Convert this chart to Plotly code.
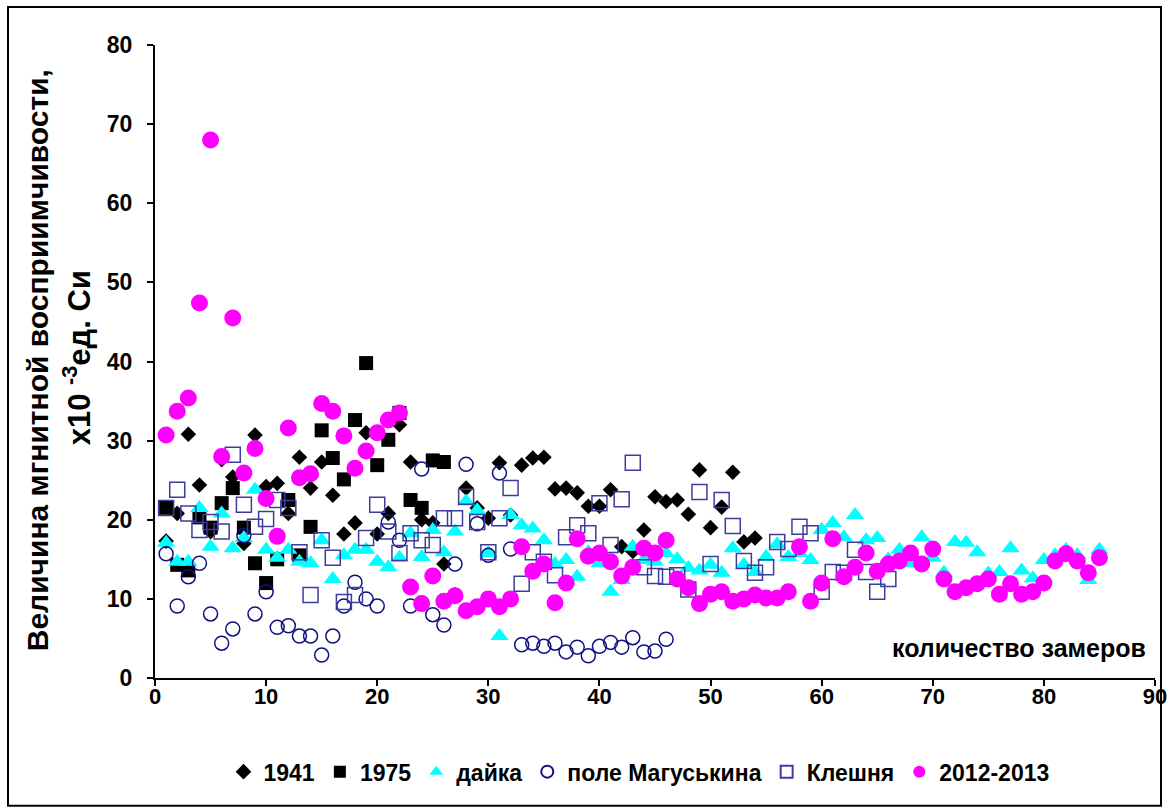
import plotly.graph_objects as go

# ---- data ----
y1941 = [17.3, 20.8, 30.8, 24.4, 18.5, 27.6, 25.4, 17.0, 30.7, 24.2, 24.6, 20.8, 27.9, 24.0, 27.3,
         23.1, 18.2, 19.6, 31.0, 18.2, 20.8, 32.0, 27.3, 20.0, 19.6, 14.4, 10.5, 24.0, 21.5, 20.2,
         27.2, 20.6, 26.9, 27.8, 27.9, 23.9, 24.0, 23.4, 21.7, 21.7, 23.8, 16.6, 16.0, 18.7, 22.9,
         22.3, 22.5, 20.7, 26.3, 19.0, 21.6, 26.0, 17.2, 17.7]
x1941 = list(range(1, len(y1941) + 1))

y1975 = [21.5, 14.3, 13.6, 20.3, 19.0, 22.1, 24.0, 19.0, 14.5, 12.0, 15.0, 22.5, 15.5, 19.1, 31.3,
         27.8, 25.1, 32.6, 39.8, 26.9, 30.1, 33.5, 22.5, 21.5, 27.5, 27.3]
x1975 = list(range(1, len(y1975) + 1))

y_dayka = [17.1, 14.7, 14.7, 21.5, 16.6, 20.8, 16.4, 17.7, 23.8, 16.2, 15.2, 16.2, 14.7, 14.5, 17.4,
           12.5, 15.5, 16.2, 16.2, 14.7, 14.0, 15.2, 18.3, 15.3, 18.7, 15.9, 18.5, 22.3, 21.2, 15.8,
           5.3, 20.6, 19.3, 18.9, 17.4, 14.4, 14.9, 12.8, 15.9, 14.5, 10.9, 12.4, 16.6, 14.9, 14.7,
           15.8, 15.0, 13.9, 13.6, 14.3, 13.3, 16.4, 14.3, 13.4, 15.3, 16.9, 15.3, 15.8, 14.9, 18.7,
           19.6, 17.8, 20.6, 17.4, 17.7, 15.0, 16.2, 14.5, 17.8, 15.2, 13.3, 17.2, 17.1, 15.9, 13.2,
           13.4, 16.4, 13.6, 12.6, 14.9, 15.5, 16.2, 15.5, 12.4, 16.2]
x_dayka = list(range(1, len(y_dayka) + 1))

y_pole = [15.7, 9.1, 12.8, 14.5, 8.1, 4.4, 6.2, 18.0, 8.1, 10.9, 6.4, 6.6, 5.3, 5.3, 2.9,
          5.3, 9.1, 12.1, 10.0, 9.1, 19.7, 17.4, 9.1, 26.4, 8.0, 6.7, 14.4, 27.0, 19.5, 15.5,
          25.9, 16.3, 4.2, 4.4, 4.0, 4.4, 3.3, 3.9, 2.8, 4.0, 4.5, 3.9, 5.1, 3.3, 3.4, 4.9]
x_pole = list(range(1, len(y_pole) + 1))

y_klesh = [21.5, 23.8, 20.8, 18.7, 19.7, 18.5, 28.2, 21.9, 19.1, 20.1, 22.5, 21.5, 15.9, 10.5, 17.4,
           15.2, 9.6, 10.5, 17.7, 21.9, 18.5, 15.8, 18.3, 17.4, 16.8, 20.2, 20.2, 22.9, 19.7, 15.9,
           20.2, 24.0, 11.9, 15.9, 14.7, 13.0, 17.8, 19.3, 18.3, 22.1, 16.8, 22.6, 27.2, 14.0, 12.9,
           12.8, 13.0, 11.2, 23.5, 14.4, 22.5, 19.2, 14.8, 13.3, 14.0, 17.2, 16.3, 19.1, 18.3, 10.9,
           13.4, 13.3, 16.2, 13.4, 10.9, 12.5]
x_klesh = list(range(1, len(y_klesh) + 1))

y2012 = [30.7, 33.7, 35.4, 47.4, 68.0, 28.0, 45.5, 25.9, 29.0, 22.7, 17.9, 31.6, 25.3, 25.8, 34.7,
         33.7, 30.6, 26.5, 28.7, 31.0, 32.6, 33.5, 11.5, 9.4, 12.9, 9.7, 10.4, 8.5, 9.0, 10.0,
         9.0, 10.0, 16.6, 13.5, 14.4, 9.5, 12.0, 17.6, 15.4, 15.8, 14.7, 12.9, 14.0, 16.4, 15.8,
         17.4, 12.5, 11.4, 9.4, 10.6, 10.9, 9.7, 10.0, 10.5, 10.1, 10.1, 10.9, 16.6, 9.7, 12.0,
         17.6, 12.8, 14.0, 15.8, 13.5, 14.4, 14.8, 15.8, 14.4, 16.3, 12.5, 10.9, 11.4, 11.9, 12.5,
         10.6, 11.9, 10.6, 10.9, 12.0, 14.8, 15.7, 14.8, 13.3, 15.2]
x2012 = list(range(1, len(y2012) + 1))

x_ticks = [0, 10, 20, 30, 40, 50, 60, 70, 80, 90]
y_ticks = [0, 10, 20, 30, 40, 50, 60, 70, 80]

FONT = "Arial, Liberation Sans, sans-serif"

fig = go.Figure()
fig.add_trace(go.Scatter(x=x1941, y=y1941, mode="markers", name="1941",
                         marker=dict(symbol="diamond", size=12, color="black")))
fig.add_trace(go.Scatter(x=x1975, y=y1975, mode="markers", name="1975",
                         marker=dict(symbol="square", size=14, color="black")))
fig.add_trace(go.Scatter(x=x_dayka, y=y_dayka, mode="markers", name="дайка",
                         marker=dict(symbol="triangle-up", size=16, color="#00FFFF")))
fig.add_trace(go.Scatter(x=x_pole, y=y_pole, mode="markers", name="поле Магуськина",
                         marker=dict(symbol="circle-open", size=14, color="#101080",
                                     line=dict(width=1.5, color="#101080"))))
fig.add_trace(go.Scatter(x=x_klesh, y=y_klesh, mode="markers", name="Клешня",
                         marker=dict(symbol="square-open", size=15, color="#3c3c9c",
                                     line=dict(width=1.5, color="#3c3c9c"))))
fig.add_trace(go.Scatter(x=x2012, y=y2012, mode="markers", name="2012-2013",
                         marker=dict(symbol="circle", size=17, color="#FF00FF")))

fig.update_layout(
    width=1167, height=809,
    margin=dict(l=155, r=12, t=45, b=131, autoexpand=False),
    paper_bgcolor="white", plot_bgcolor="white",
    font=dict(family=FONT, color="black"),
    showlegend=True,
    legend=dict(orientation="h", x=0.484, xanchor="center", y=-0.148, yanchor="middle",
                font=dict(size=23, family=FONT, color="black", weight="bold"),
                itemsizing="constant", bgcolor="rgba(0,0,0,0)"),
    xaxis=dict(range=[0, 90], tickvals=x_ticks, ticktext=[str(v) for v in x_ticks],
               showline=True, linecolor="black", linewidth=2, ticks="outside",
               ticklen=6, tickwidth=2, tickcolor="black", showgrid=False, zeroline=False,
               ticklabelstandoff=-8, ticklabeloverflow="allow", automargin=False,
               tickfont=dict(size=22, family=FONT, color="black", weight="bold")),
    yaxis=dict(range=[0, 80], tickvals=y_ticks, ticktext=[str(v) for v in y_ticks],
               showline=True, linecolor="black", linewidth=2, ticks="outside",
               ticklen=6, tickwidth=2, tickcolor="black", showgrid=False, zeroline=False,
               ticklabelstandoff=10, ticklabeloverflow="allow", automargin=False,
               tickfont=dict(size=23, family=FONT, color="black", weight="bold")),
)

fig.add_annotation(xref="paper", yref="paper", x=-0.118, y=0.502, textangle=-90,
                   text="<b>Величина мгнитной восприимчивости,</b>", showarrow=False,
                   font=dict(size=30, family=FONT, color="black"),
                   xanchor="center", yanchor="middle")
fig.add_annotation(xref="paper", yref="paper", x=-0.078, y=0.505, textangle=-90,
                   text="<b>x10 <sup>-3</sup>ед. Си</b>", showarrow=False,
                   font=dict(size=31, family=FONT, color="black"),
                   xanchor="center", yanchor="middle")
fig.add_annotation(xref="paper", yref="paper", x=0.993, y=0.047,
                   text="<b>количество замеров</b>", showarrow=False,
                   font=dict(size=25, family=FONT, color="black"),
                   xanchor="right", yanchor="middle")

# outer frame
fig.add_shape(type="rect", xref="paper", yref="paper",
              x0=-0.147, x1=1.006, y0=-0.202, y1=1.06,
              line=dict(color="black", width=2), fillcolor="rgba(0,0,0,0)", layer="below")

fig.write_html("out.html", config={"displayModeBar": False},
               post_script="document.body.style.margin='0px';document.body.style.overflow='hidden';")
